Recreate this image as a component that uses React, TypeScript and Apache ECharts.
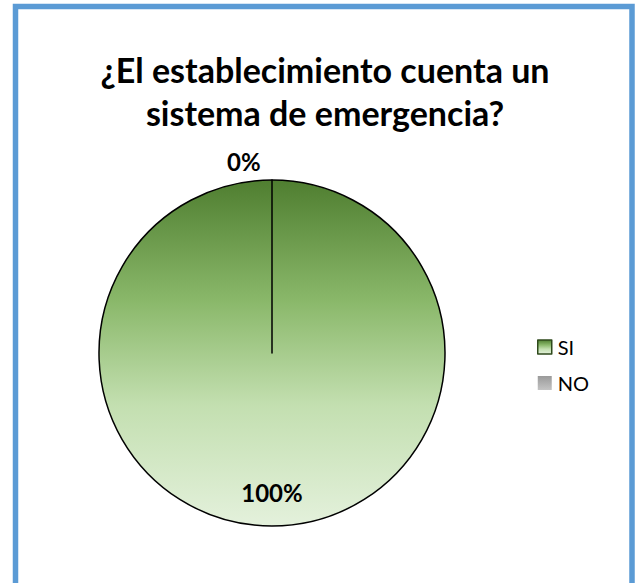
import React, { useEffect, useRef } from "react";
import * as echarts from "echarts";

const categories = ["SI", "NO"];
const values = [100, 0];
const percentLabels = ["100%", "0%"];
const titleText = "¿El establecimiento cuenta un\nsistema de emergencia?";

export default function App() {
  const ref = useRef<HTMLDivElement>(null);
  useEffect(() => {
    if (!ref.current) return;
    const chart = echarts.init(ref.current, undefined, { renderer: "svg" });
    const greenGrad = new echarts.graphic.LinearGradient(0, 0, 0, 1, [
      { offset: 0, color: "#4f7e30" },
      { offset: 0.35, color: "#8ab86a" },
      { offset: 0.65, color: "#c3dfb0" },
      { offset: 1, color: "#e4f1dc" },
    ]);
    const grayGrad = new echarts.graphic.LinearGradient(0, 0, 0, 1, [
      { offset: 0, color: "#9a9a9a" },
      { offset: 1, color: "#c4c4c4" },
    ]);
    chart.setOption({
      animation: false,
      backgroundColor: "#ffffff",
      graphic: [
        {
          type: "rect",
          shape: { x: 15.5, y: 6.5, width: 616.5, height: 640 },
          style: { fill: "none", stroke: "#5b9bd5", lineWidth: 5.5 },
          silent: true,
        },
      ],
      title: {
        text: titleText,
        left: 320,
        textAlign: "center",
        top: 43,
        textStyle: {
          fontFamily: "Lato",
          fontWeight: "bold",
          fontSize: 34,
          lineHeight: 43,
          color: "#000000",
        },
      },
      legend: {
        orient: "vertical",
        left: 532,
        top: 332,
        itemWidth: 14,
        itemHeight: 14,
        itemGap: 16,
        icon: "rect",
        data: [
          { name: categories[0], itemStyle: { borderColor: "#2f4a1c", borderWidth: 1.5 } },
          { name: categories[1], itemStyle: { borderWidth: 0 } },
        ],
        textStyle: { fontFamily: "Lato", fontSize: 20, color: "#000000", padding: [0, 0, 0, 1] },
      },
      series: [
        {
          type: "pie",
          center: [272, 353],
          radius: 173,
          startAngle: 90,
          clockwise: true,
          stillShowZeroSum: true,
          avoidLabelOverlap: false,
          itemStyle: { borderColor: "#000000", borderWidth: 1.5 },
          labelLine: { show: false },
          data: categories.map((name, i) => ({
            name,
            value: values[i],
            itemStyle: {
              color: i === 0 ? greenGrad : grayGrad,
              borderColor: "#000000",
            },
            label: {
              show: true,
              formatter: percentLabels[i],
              position: i === 0 ? "inside" : "outside",
              offset: i === 0 ? [0, 50] : [-50, -19],
              fontFamily: "Lato",
              fontWeight: "bold",
              fontSize: 24,
              color: "#000000",
            },
            labelLine: { show: false, length: 0, length2: 0 },
          })),
        },
      ],
    });
    return () => chart.dispose();
  }, []);
  return (
    <div
      ref={ref}
      style={{ position: "absolute", left: 0, top: 0, width: 638, height: 583 }}
    />
  );
}
